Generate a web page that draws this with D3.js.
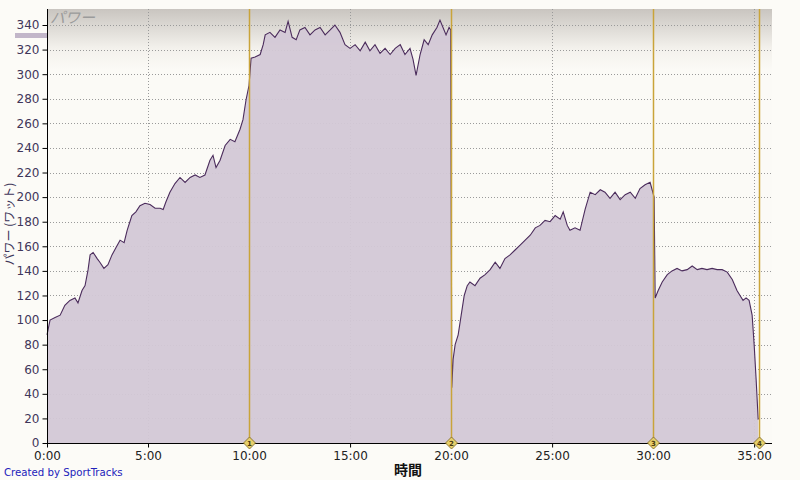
<!DOCTYPE html>
<html><head><meta charset="utf-8">
<script src="https://cdn.jsdelivr.net/npm/d3@7"></script>
<style>body{margin:0;background:#fcfbf7;}svg{display:block;}</style>
</head><body>
<svg id="c" width="800" height="480"></svg>
<script>
// elapsed time (seconds)
const timeSec = [0,9,24,39,53,68,83,92,104,113,122,128,137,149,157,169,181,193,205,217,229,238,252,264,276,291,306,321,336,345,353,365,380,395,410,425,440,454,469,484,493,502,514,529,544,558,573,582,591,600,606,618,633,642,648,662,677,692,707,716,728,740,751,766,781,796,811,826,841,855,870,885,900,915,930,945,959,974,989,1004,1019,1034,1049,1063,1078,1087,1096,1108,1120,1132,1144,1158,1167,1176,1185,1194,1199,1202,1206,1212,1221,1230,1239,1248,1256,1271,1286,1301,1316,1331,1345,1360,1375,1390,1405,1420,1435,1450,1464,1479,1494,1509,1524,1533,1545,1553,1568,1583,1598,1613,1628,1643,1657,1672,1687,1702,1717,1732,1747,1761,1776,1791,1797,1803,1806,1815,1827,1842,1856,1871,1886,1901,1916,1931,1945,1960,1975,1990,2005,2020,2035,2049,2058,2067,2076,2085,2094,2100,2106,2112];
// power (watts)
const power = [88,100,102,104,112,116,118,114,124,128,141,153,155,150,147,142,145,153,159,165,163,173,185,188,193,195,194,191,191,190,196,204,211,216,212,216,218,216,218,230,234,224,230,242,247,245,255,263,279,291,313,314,316,324,332,334,330,336,334,343,330,328,336,338,332,336,338,332,336,340,334,324,321,324,319,326,319,324,317,321,316,321,324,316,321,312,299,316,328,324,332,338,344,338,332,338,336,45,68,80,88,104,120,128,131,128,134,137,141,147,142,150,153,157,161,165,169,175,177,181,180,185,182,188,177,173,175,173,190,204,202,206,204,199,204,198,202,204,199,207,210,212,206,200,118,124,131,137,140,142,140,141,144,141,142,141,142,141,141,139,133,124,120,116,118,116,104,80,51,19];
const lapSec = [600,1200,1800,2115];
const lapLabels = ["1","2","3","4"];
const yTicks = [0,20,40,60,80,100,120,140,160,180,200,220,240,260,280,300,320,340];
const xTicksSec = [0,300,600,900,1200,1500,1800,2100];
const xTickLabels = ["0:00","5:00","10:00","15:00","20:00","25:00","30:00","35:00"];
const seriesName = "パワー";
const yTitle = "パワー (ワット)";
const xTitle = "時間";
const credit = "Created by SportTracks";

const svg = d3.select("#c");
const L = 47, R = 772, T = 9, B = 443;
const x = d3.scaleLinear().domain([0, 2153]).range([L, R]);
const y = d3.scaleLinear().domain([0, 340]).range([B, 25]);
const data = timeSec.map((t,i)=>({t, v: power[i]}));

const defs = svg.append("defs");
const g1 = defs.append("linearGradient").attr("id","bg").attr("x1",0).attr("y1",0).attr("x2",0).attr("y2",1);
g1.append("stop").attr("offset","0").attr("stop-color","#c9c5c0");
g1.append("stop").attr("offset","0.09").attr("stop-color","#f3f1ec");
g1.append("stop").attr("offset","0.14").attr("stop-color","#fbfaf6");
g1.append("stop").attr("offset","1").attr("stop-color","#fbfaf6");
svg.append("rect").attr("x",L).attr("y",T).attr("width",R-L).attr("height",B-T).attr("fill","url(#bg)");

// grid
const grid = svg.append("g");
yTicks.filter(d=>d>0).forEach(d=>{
  grid.append("line").attr("x1",L).attr("x2",R).attr("y1",Math.round(y(d))+0.5).attr("y2",Math.round(y(d))+0.5)
    .attr("stroke","#9a9a9a").attr("stroke-dasharray","1,2");
});
xTicksSec.filter(d=>d>0).forEach(d=>{
  grid.append("line").attr("y1",T).attr("y2",B).attr("x1",Math.round(x(d))+0.5).attr("x2",Math.round(x(d))+0.5)
    .attr("stroke","#9a9a9a").attr("stroke-dasharray","1,2");
});

// area
const area = d3.area().x(d=>x(d.t)).y0(y(0)).y1(d=>y(d.v));
svg.append("path").datum(data).attr("d",area).attr("fill","#d3c8d6").attr("fill-opacity",0.95);
const line = d3.line().x(d=>x(d.t)).y(d=>y(d.v));
svg.append("path").datum(data).attr("d",line).attr("fill","none").attr("stroke","#4b2c5c").attr("stroke-width",1.1);

// lap lines
lapSec.forEach(s=>{
  svg.append("line").attr("x1",Math.round(x(s))+0.5).attr("x2",Math.round(x(s))+0.5).attr("y1",T).attr("y2",B)
    .attr("stroke","#c9a43a").attr("stroke-width",1.5);
});

// series label and legend swatch
svg.append("text").attr("x",L+3).attr("y",T+14).text(seriesName)
  .attr("font-family","'Noto Sans CJK JP'").attr("font-size",15).attr("font-style","italic").attr("fill","#9b9b9b");
svg.append("rect").attr("x",15).attr("y",33).attr("width",L-15).attr("height",5).attr("fill","#c2b6c9");

// y axis
const yAxis = d3.axisLeft(y).tickValues(yTicks).tickSize(5).tickPadding(3);
const ya = svg.append("g").attr("transform",`translate(${L+0.5},0)`).call(yAxis);
ya.select(".domain").remove();
ya.selectAll("line").attr("stroke","#000");
ya.selectAll("text").attr("font-family","'DejaVu Sans',Verdana,sans-serif").attr("font-size",12).attr("fill","#40365a");
svg.append("line").attr("x1",L+0.5).attr("x2",L+0.5).attr("y1",T).attr("y2",B+1).attr("stroke","#000");

// x axis
const xAxis = d3.axisBottom(x).tickValues(xTicksSec).tickFormat((d,i)=>xTickLabels[i]).tickSize(4).tickPadding(4);
const xa = svg.append("g").attr("transform",`translate(0,${B+0.5})`).call(xAxis);
xa.select(".domain").remove();
xa.selectAll("line").attr("stroke","#000");
xa.selectAll("text").attr("font-family","'DejaVu Sans',Verdana,sans-serif").attr("font-size",12).attr("fill","#222");
svg.append("line").attr("x1",L).attr("x2",R).attr("y1",B+0.5).attr("y2",B+0.5).attr("stroke","#000");

// lap markers
lapSec.forEach((s,i)=>{
  const cx = Math.round(x(s))+0.5;
  svg.append("path").attr("d",`M${cx},${B-6}L${cx+6},${B}L${cx},${B+6}L${cx-6},${B}Z`)
    .attr("fill","#e6cf6a").attr("stroke","#7a6320").attr("stroke-width",0.8);
  svg.append("text").attr("x",cx).attr("y",B+3).attr("text-anchor","middle")
    .attr("font-family","'DejaVu Sans'").attr("font-size",7).attr("font-weight","bold").attr("fill","#4a3a10").text(lapLabels[i]);
});

// titles
svg.append("text").attr("transform",`translate(14,224) rotate(-90)`).attr("text-anchor","middle")
  .attr("font-family","'Noto Sans CJK JP'").attr("font-size",12).attr("fill","#40365a").text(yTitle);
svg.append("text").attr("x",408).attr("y",475).attr("text-anchor","middle")
  .attr("font-family","'Noto Sans CJK JP'").attr("font-size",14).attr("font-weight","bold").attr("fill","#111").text(xTitle);
svg.append("text").attr("x",4).attr("y",476)
  .attr("font-family","'DejaVu Sans',Verdana,sans-serif").attr("font-size",10.2).attr("fill","#2222bb").text(credit);
</script>
</body></html>
